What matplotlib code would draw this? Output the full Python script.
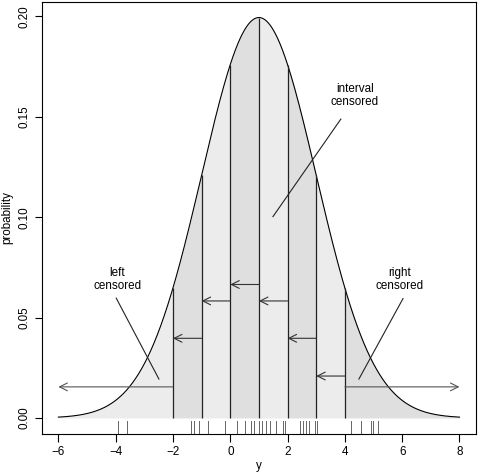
import numpy as np
import matplotlib.pyplot as plt

plt.rcParams['font.family'] = ['Liberation Sans', 'DejaVu Sans']

# normal model for y
mu = 1.0
sigma = 2.0

# interval bounds and shading
edges = [-6, -2, -1, 0, 1, 2, 3, 4, 8]
bounds = [-2, -1, 0, 1, 2, 3, 4]
shades = ['#ececec', '#dfdfdf'] * 4

# arrows inside each interval (from right bound to left bound)
interval_from = [-1, 0, 1, 2, 3, 4]
interval_to = [-2, -1, 0, 1, 2, 3]
interval_y = [0.0397, 0.0583, 0.0665, 0.0583, 0.0397, 0.0209]

# censored arrows
cens_from = [-2, 4]
cens_to = [-6, 8]
cens_y = [0.0155, 0.0155]

# labels and pointer lines
labels = ['left\ncensored', 'interval\ncensored', 'right\ncensored']
label_x = [-3.94, 4.35, 5.90]
label_y = [0.0690, 0.1605, 0.0690]
ptr_x0 = [-3.98, 3.86, 6.03]
ptr_y0 = [0.0597, 0.1489, 0.0595]
ptr_x1 = [-2.49, 1.49, 4.49]
ptr_y1 = [0.0194, 0.1003, 0.0194]

# observed values (rug)
rug = [-3.91, -3.62, -1.38, -1.25, -1.08, -0.79, -0.18, 0.22, 0.52, 0.72,
       0.83, 1.01, 1.10, 1.24, 1.37, 1.58, 1.85, 1.91, 2.42, 2.53, 2.64,
       2.76, 2.96, 3.02, 4.20, 4.58, 4.92, 4.98, 5.16]


def dens(x):
    return np.exp(-0.5 * ((x - mu) / sigma) ** 2) / (sigma * np.sqrt(2 * np.pi))


fig = plt.figure(figsize=(4.78, 4.76), dpi=100)
ax = fig.add_axes([0.0885, 0.0882, 0.9063, 0.9086])

for a, b, c in zip(edges[:-1], edges[1:], shades):
    xs = np.linspace(a, b, 200)
    ax.fill_between(xs, 0, dens(xs), color=c, lw=0)

xs = np.linspace(-6, 8, 800)
ax.plot(xs, dens(xs), color='black', lw=0.8)

ax.vlines(bounds, 0, dens(np.array(bounds)), color='#222222', lw=0.9)

arrow_kw = dict(arrowstyle='->', color='#333333', lw=0.8,
                shrinkA=0, shrinkB=0, mutation_scale=14)
for x0, x1, yy in zip(interval_from, interval_to, interval_y):
    ax.annotate('', xy=(x1, yy), xytext=(x0, yy), arrowprops=arrow_kw)
for x0, x1, yy in zip(cens_from, cens_to, cens_y):
    ax.annotate('', xy=(x1, yy), xytext=(x0, yy),
                arrowprops=dict(arrow_kw, color='#555555'))

for t, tx, ty in zip(labels, label_x, label_y):
    ax.text(tx, ty, t, ha='center', va='center', fontsize=8.4, linespacing=1.15)
for x0, y0, x1, y1 in zip(ptr_x0, ptr_y0, ptr_x1, ptr_y1):
    ax.plot([x0, x1], [y0, y1], color='#222222', lw=0.8)

for r in rug:
    ax.plot([r, r], [0, 0.03], color='#666666', lw=0.7,
            transform=ax.get_xaxis_transform())

ax.set_xlim(-6.56, 8.56)
ax.set_ylim(-0.00798, 0.20745)
ax.set_xticks([-6, -4, -2, 0, 2, 4, 6, 8])
ax.set_xticklabels(['\u22126', '\u22124', '\u22122', '0', '2', '4', '6', '8'])
ax.set_yticks([0.00, 0.05, 0.10, 0.15, 0.20])
ax.set_yticklabels(['0.00', '0.05', '0.10', '0.15', '0.20'], rotation=90, va='center')
ax.tick_params(direction='out', length=5.4, width=0.8, labelsize=8.4, pad=3)
ax.set_xlabel('y', fontsize=8.4, labelpad=2)
ax.set_ylabel('probability', fontsize=8.4, labelpad=4)
for s in ax.spines.values():
    s.set_linewidth(0.8)

fig.savefig('out.png', dpi=100)
